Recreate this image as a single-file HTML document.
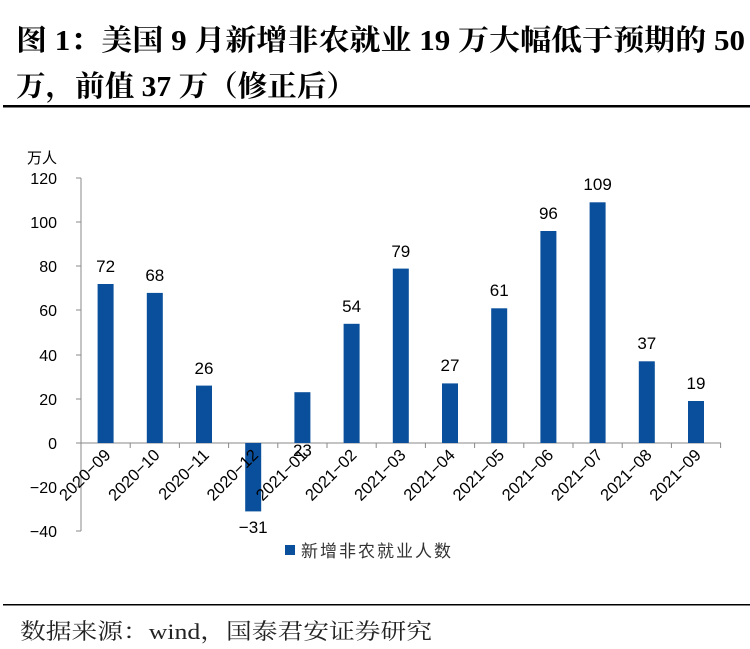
<!DOCTYPE html>
<html><head><meta charset="utf-8"><style>
body{margin:0;background:#fff;width:750px;height:649px;overflow:hidden}
svg{display:block}
</style></head><body>
<svg width="750" height="649" xmlns="http://www.w3.org/2000/svg">
<g font-family="'Liberation Serif','Noto Serif CJK SC',serif" font-weight="bold" font-size="29" fill="#000">
<text x="16" y="50" textLength="729" lengthAdjust="spacingAndGlyphs">图 1：美国 9 月新增非农就业 19 万大幅低于预期的 50</text>
<text x="16" y="96" textLength="340" lengthAdjust="spacingAndGlyphs">万，前值 37 万（修正后）</text>
</g>
<rect x="3" y="105" width="747" height="2.5" fill="#000"/>
<rect x="3" y="604" width="747" height="1.5" fill="#000"/>
<text x="20" y="639" font-family="'Liberation Serif','Noto Serif CJK SC',serif" font-size="22" fill="#222" textLength="412" lengthAdjust="spacingAndGlyphs">数据来源：wind，国泰君安证券研究</text>
<text x="27" y="163" font-family="'Liberation Sans','Noto Sans CJK SC',sans-serif" font-size="15" fill="#000">万人</text>
<g font-family="'Liberation Sans',sans-serif" font-size="16" fill="#000" text-anchor="end">
<text x="57" y="184">120</text><text x="57" y="228">100</text><text x="57" y="272">80</text>
<text x="57" y="316">60</text><text x="57" y="361">40</text><text x="57" y="405">20</text>
<text x="57" y="449">0</text><text x="57" y="493">−20</text><text x="57" y="537">−40</text>
</g>
<g stroke="#888" stroke-width="1" fill="none">
<line x1="81" y1="178" x2="81" y2="531"/>
<line x1="76" y1="178" x2="81" y2="178"/><line x1="76" y1="222" x2="81" y2="222"/>
<line x1="76" y1="266" x2="81" y2="266"/><line x1="76" y1="310" x2="81" y2="310"/>
<line x1="76" y1="355" x2="81" y2="355"/><line x1="76" y1="399" x2="81" y2="399"/>
<line x1="76" y1="443" x2="81" y2="443"/><line x1="76" y1="487" x2="81" y2="487"/>
<line x1="76" y1="531" x2="81" y2="531"/>
<line x1="76" y1="443" x2="721" y2="443"/>
<line x1="130.2" y1="443" x2="130.2" y2="448"/><line x1="179.4" y1="443" x2="179.4" y2="448"/>
<line x1="228.6" y1="443" x2="228.6" y2="448"/><line x1="277.8" y1="443" x2="277.8" y2="448"/>
<line x1="327" y1="443" x2="327" y2="448"/><line x1="376.2" y1="443" x2="376.2" y2="448"/>
<line x1="425.4" y1="443" x2="425.4" y2="448"/><line x1="474.6" y1="443" x2="474.6" y2="448"/>
<line x1="523.8" y1="443" x2="523.8" y2="448"/><line x1="573" y1="443" x2="573" y2="448"/>
<line x1="622.2" y1="443" x2="622.2" y2="448"/><line x1="671.4" y1="443" x2="671.4" y2="448"/>
<line x1="720.6" y1="443" x2="720.6" y2="448"/>
</g>
<g fill="#0a4f9c">
<rect x="97.6" y="284" width="16" height="159"/>
<rect x="146.8" y="292.9" width="16" height="150.1"/>
<rect x="196" y="385.6" width="16" height="57.4"/>
<rect x="245.2" y="443" width="16" height="68.4"/>
<rect x="294.4" y="392.2" width="16" height="50.8"/>
<rect x="343.6" y="323.8" width="16" height="119.2"/>
<rect x="392.8" y="268.6" width="16" height="174.4"/>
<rect x="442" y="383.4" width="16" height="59.6"/>
<rect x="491.2" y="308.3" width="16" height="134.7"/>
<rect x="540.4" y="231" width="16" height="212"/>
<rect x="589.6" y="202.3" width="16" height="240.7"/>
<rect x="638.8" y="361.3" width="16" height="81.7"/>
<rect x="688" y="401" width="16" height="42"/>
</g>
<g font-family="'Liberation Sans',sans-serif" font-size="17" fill="#000" text-anchor="middle">
<text x="105.6" y="272">72</text><text x="154.8" y="281">68</text><text x="204" y="374">26</text>
<text x="253.2" y="533">−31</text><text x="302.4" y="456">23</text><text x="351.6" y="312">54</text>
<text x="400.8" y="257">79</text><text x="450" y="371">27</text><text x="499.2" y="296">61</text>
<text x="548.4" y="219">96</text><text x="597.6" y="190">109</text><text x="646.8" y="349">37</text>
<text x="696" y="389">19</text>
</g>
<g font-family="'Liberation Sans',sans-serif" font-size="16.5" fill="#000" text-anchor="end">
<text transform="translate(111.6,456) rotate(-45)">2020−09</text>
<text transform="translate(160.8,456) rotate(-45)">2020−10</text>
<text transform="translate(210,456) rotate(-45)">2020−11</text>
<text transform="translate(259.2,456) rotate(-45)">2020−12</text>
<text transform="translate(308.4,456) rotate(-45)">2021−01</text>
<text transform="translate(357.6,456) rotate(-45)">2021−02</text>
<text transform="translate(406.8,456) rotate(-45)">2021−03</text>
<text transform="translate(456,456) rotate(-45)">2021−04</text>
<text transform="translate(505.2,456) rotate(-45)">2021−05</text>
<text transform="translate(554.4,456) rotate(-45)">2021−06</text>
<text transform="translate(603.6,456) rotate(-45)">2021−07</text>
<text transform="translate(652.8,456) rotate(-45)">2021−08</text>
<text transform="translate(702,456) rotate(-45)">2021−09</text>
</g>
<rect x="285" y="545" width="10" height="10" fill="#0a4f9c"/>
<text x="301" y="557" font-family="'Liberation Sans','Noto Sans CJK SC',sans-serif" font-size="17" fill="#333" letter-spacing="2">新增非农就业人数</text>
</svg>
</body></html>
